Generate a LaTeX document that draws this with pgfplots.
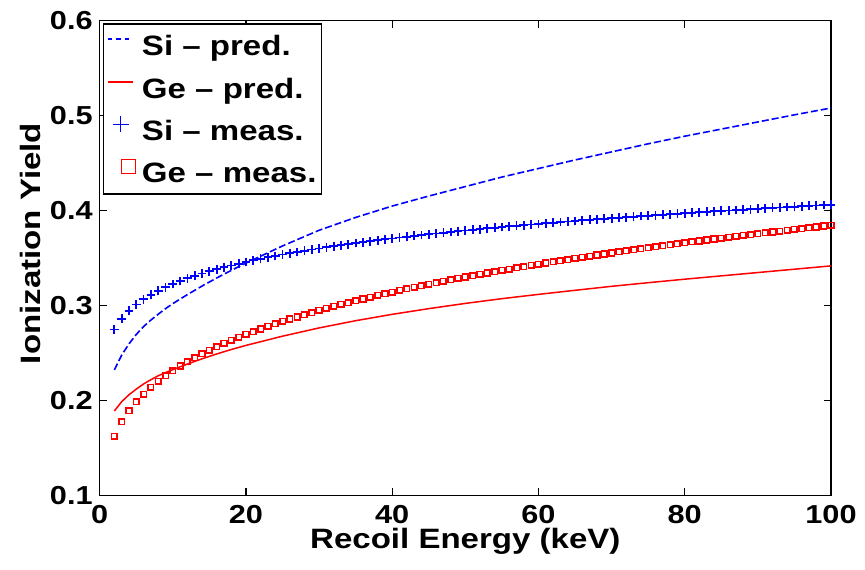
\documentclass[border=0pt]{standalone}
\usepackage{fontspec}
\setmainfont{Liberation Sans}[FakeStretch=1.18]
\usepackage{pgfplots}
\usepackage{pgfplotstable}
\usetikzlibrary{shapes.misc}
\pgfplotsset{compat=1.18}

\pgfplotstableread{
x y
2 0.2320
3 0.2475
4 0.2594
5 0.2693
6 0.2776
7 0.2845
8 0.2906
9 0.2965
10 0.3018
12 0.3113
14 0.3203
16 0.3288
18 0.3368
20 0.3445
25 0.3625
30 0.3790
35 0.3925
40 0.4045
45 0.4150
50 0.4250
55 0.4350
60 0.4440
65 0.4530
70 0.4615
75 0.4700
80 0.4780
85 0.4855
90 0.4930
95 0.5005
100 0.5077
}\sipred

\pgfplotstableread{
x y
2 0.1887
3 0.1985
4 0.2058
5 0.2118
6 0.2172
7 0.2217
8 0.2258
9 0.2292
10 0.2323
12 0.2382
14 0.2437
16 0.2488
18 0.2535
20 0.2578
25 0.2675
30 0.2762
35 0.2838
40 0.2905
45 0.2965
50 0.3020
55 0.3070
60 0.3115
65 0.3158
70 0.3200
75 0.3238
80 0.3275
85 0.3310
90 0.3345
95 0.3380
100 0.3415
}\gepred

\pgfplotstableread{
x y
2 0.2745
3 0.2859
4 0.2942
5 0.3009
6 0.3064
7 0.3111
8 0.3153
9 0.3191
10 0.3224
11 0.3255
12 0.3284
13 0.3310
14 0.3335
15 0.3358
16 0.3380
17 0.3400
18 0.3419
19 0.3438
20 0.3456
21 0.3473
22 0.3489
23 0.3505
24 0.3519
25 0.3534
26 0.3548
27 0.3561
28 0.3574
29 0.3587
30 0.3599
31 0.3611
32 0.3622
33 0.3633
34 0.3644
35 0.3655
36 0.3665
37 0.3675
38 0.3685
39 0.3694
40 0.3704
41 0.3713
42 0.3722
43 0.3731
44 0.3739
45 0.3748
46 0.3756
47 0.3764
48 0.3772
49 0.3780
50 0.3787
51 0.3795
52 0.3802
53 0.3810
54 0.3817
55 0.3824
56 0.3831
57 0.3837
58 0.3844
59 0.3851
60 0.3857
61 0.3864
62 0.3870
63 0.3876
64 0.3882
65 0.3888
66 0.3894
67 0.3900
68 0.3906
69 0.3911
70 0.3917
71 0.3923
72 0.3928
73 0.3933
74 0.3939
75 0.3944
76 0.3949
77 0.3954
78 0.3959
79 0.3965
80 0.3970
81 0.3974
82 0.3979
83 0.3984
84 0.3989
85 0.3994
86 0.3998
87 0.4003
88 0.4007
89 0.4012
90 0.4017
91 0.4021
92 0.4026
93 0.4030
94 0.4034
95 0.4038
96 0.4043
97 0.4047
98 0.4051
99 0.4055
100 0.4059
}\simeas

\pgfplotstableread{
x y
2 0.1621
3 0.1773
4 0.1889
5 0.1984
6 0.2065
7 0.2137
8 0.2201
9 0.2259
10 0.2312
11 0.2361
12 0.2407
13 0.2450
14 0.2490
15 0.2528
16 0.2565
17 0.2599
18 0.2632
19 0.2664
20 0.2694
21 0.2723
22 0.2751
23 0.2778
24 0.2805
25 0.2830
26 0.2855
27 0.2878
28 0.2902
29 0.2924
30 0.2946
31 0.2968
32 0.2988
33 0.3009
34 0.3029
35 0.3048
36 0.3067
37 0.3086
38 0.3104
39 0.3122
40 0.3139
41 0.3156
42 0.3173
43 0.3190
44 0.3206
45 0.3222
46 0.3237
47 0.3253
48 0.3268
49 0.3283
50 0.3297
51 0.3312
52 0.3326
53 0.3340
54 0.3354
55 0.3367
56 0.3381
57 0.3394
58 0.3407
59 0.3420
60 0.3433
61 0.3445
62 0.3458
63 0.3470
64 0.3482
65 0.3494
66 0.3506
67 0.3517
68 0.3529
69 0.3540
70 0.3551
71 0.3563
72 0.3574
73 0.3585
74 0.3595
75 0.3606
76 0.3616
77 0.3627
78 0.3637
79 0.3648
80 0.3658
81 0.3668
82 0.3678
83 0.3687
84 0.3697
85 0.3707
86 0.3716
87 0.3726
88 0.3735
89 0.3745
90 0.3754
91 0.3763
92 0.3772
93 0.3781
94 0.3790
95 0.3799
96 0.3808
97 0.3817
98 0.3825
99 0.3834
100 0.3842
}\gemeas

\begin{document}
\begin{tikzpicture}
\path[use as bounding box] (0,0) rectangle (432.5pt,284.5pt);
\begin{axis}[
  at={(49.85pt,36.85pt)}, anchor=south west,
  scale only axis, width=365.65pt, height=237.5pt,
  xmin=0, xmax=100, ymin=0.1, ymax=0.6,
  xtick={0,20,40,60,80,100}, ytick={0.1,0.2,0.3,0.4,0.5,0.6},
  tick align=inside, major tick length=3.75pt,
  axis line style={line width=0.75pt},
  every tick/.style={black, line width=0.6pt},
  /pgf/number format/assume math mode=true,
  tick label style={font=\bfseries\fontsize{13}{15}\selectfont},
  yticklabel style={/pgf/number format/.cd, fixed, fixed zerofill, precision=1},
  xticklabel style={yshift=-1.5pt},
  xlabel={Recoil Energy (keV)}, ylabel={Ionization Yield},
  label style={font=\bfseries\fontsize{14}{16}\selectfont},
  xlabel style={at={(axis description cs:0.5,0)}, anchor=base, yshift=-26.5pt},
  ylabel style={at={(axis description cs:-0.0816,0.53)}, anchor=base},
  clip=false,
  legend cell align=left,
  legend style={at={(axis description cs:0.0049,0.9937)}, anchor=north west,
    draw=black, line width=0.6pt, inner xsep=1.25pt, inner ysep=2.7pt,
    row sep=5.3pt, column sep=1.85pt,
    font=\bfseries\fontsize{14}{16}\selectfont,
    nodes={inner xsep=1.25pt, inner ysep=0pt, text height=10.5pt, text depth=3pt}},
  siplus/.style={draw=none, mark=none, nodes near coords={},
    every node near coord/.append style={shape=cross out, draw=blue, line width=0.9pt,
      minimum size=2.2pt, inner sep=0pt, rotate=45, anchor=center, yshift=0pt}},
  gesq/.style={draw=none, mark=none, nodes near coords={},
    every node near coord/.append style={shape=rectangle, draw=red, line width=0.8pt,
      minimum size=2.8pt, inner sep=0pt, anchor=center, yshift=0pt}},
]
\addplot[color=blue, line width=0.8pt, dash pattern=on 3.5pt off 1.5pt,
  legend image code/.code={\path (0pt,0pt) (12.5pt,9pt);
    \draw[blue, line width=1.3pt, dash pattern=on 2.2pt off 2pt] (0pt,4.5pt) -- (12.5pt,4.5pt);}]
  table[x=x,y=y] {\sipred};
\addlegendentry{Si -- pred.}
\addplot[color=red, line width=0.75pt,
  legend image code/.code={\path (0pt,0pt) (12.5pt,9pt);
    \draw[red, line width=1.4pt] (0pt,4.5pt) -- (12.5pt,4.5pt);}]
  table[x=x,y=y] {\gepred};
\addlegendentry{Ge -- pred.}
\addplot[siplus,
  legend image code/.code={\path (0pt,0pt) (12.5pt,9pt);
    \draw[blue, line width=0.45pt] (2.5pt,4.5pt) -- (10.5pt,4.5pt) (6.5pt,0.5pt) -- (6.5pt,8.5pt);}]
  table[x=x,y=y] {\simeas};
\addlegendentry{Si -- meas.}
\addplot[gesq,
  legend image code/.code={\path (0pt,0pt) (12.5pt,9pt);
    \node[shape=rectangle, draw=red, color=red, line width=0.5pt, minimum size=7pt,
      inner sep=0pt, text height=0pt, text depth=0pt] at (6.5pt,4.5pt) {};}]
  table[x=x,y=y] {\gemeas};
\addlegendentry{Ge -- meas.}
\addplot[siplus, forget plot] table[x=x,y=y] {\simeas};
\addplot[gesq, forget plot] table[x=x,y=y] {\gemeas};
\end{axis}
\end{tikzpicture}
\end{document}
